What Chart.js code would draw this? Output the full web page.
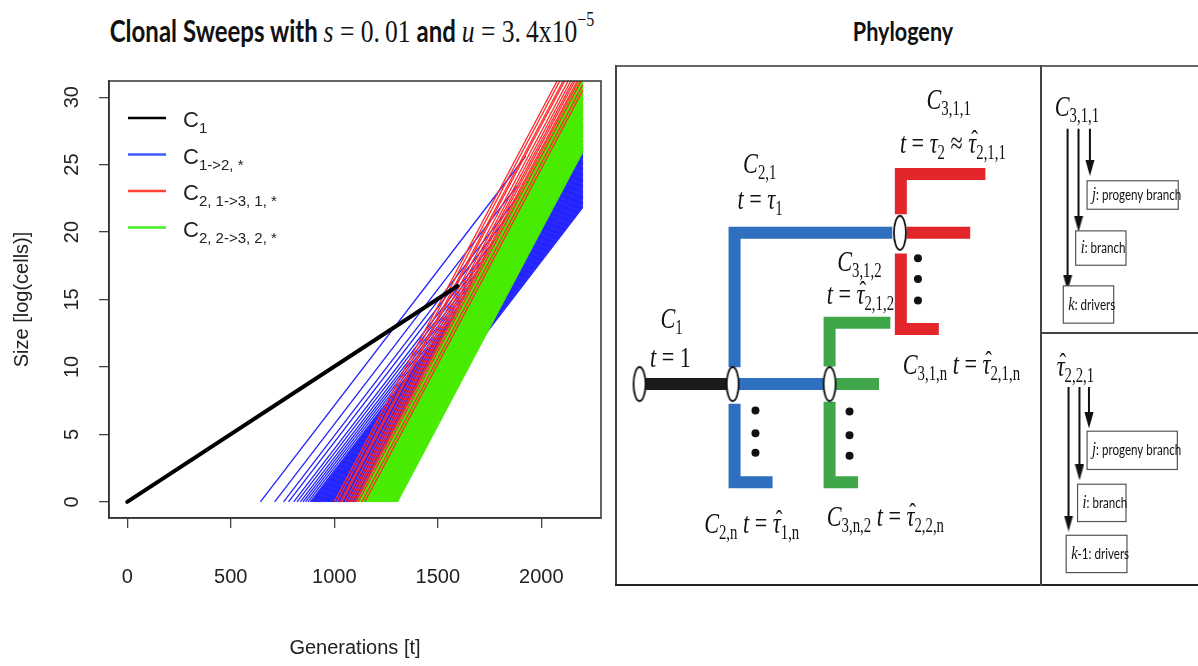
<!DOCTYPE html>
<html lang="en">
<head>
<meta charset="UTF-8">
<title>Clonal sweeps and phylogeny</title>
<script src="https://cdn.jsdelivr.net/npm/chart.js@4.4.1/dist/chart.umd.min.js"></script>
<style>
  html, body { margin: 0; padding: 0; background: #fff; }
  body { position: relative; width: 1198px; height: 666px; overflow: hidden; }
  canvas { position: absolute; top: 0; }
  #growth { left: 0; }
  #tree { left: 612px; }
  .ttl {
    position: absolute; top: 12px; white-space: nowrap; line-height: 1;
    font: bold 30px Lato, "Open Sans", sans-serif; color: #111;
    transform: translateX(-50%) scaleX(0.8); transform-origin: center top;
  }
  .ttl.ph { font-size: 27px; top: 14px; }
  .ttl .m { font: 32px "Liberation Serif", "DejaVu Serif", serif; }
  .ttl sup { font-size: 20px; position: relative; top: -4px; }
  .rule { position: absolute; background: #444; }
</style>
</head>
<body>
<div class="ttl" style="left:352px">Clonal Sweeps with <span class="m"><i>s</i> = 0.&#8201;01</span> and <span class="m"><i>u</i> = 3.&#8201;4x10<sup>−5</sup></span></div>
<div class="ttl ph" style="left:903px">Phylogeny</div>

<!-- frame of the phylogeny panel -->
<div class="rule" style="left:615px;top:65px;width:583px;height:2px;background:#666"></div>
<div class="rule" style="left:615px;top:65px;width:2px;height:521px"></div>
<div class="rule" style="left:615px;top:584px;width:583px;height:2px;background:#222"></div>
<div class="rule" style="left:1040px;top:65px;width:2px;height:521px"></div>
<div class="rule" style="left:1040px;top:332px;width:158px;height:2px"></div>

<canvas id="growth" width="612" height="666"></canvas>
<canvas id="tree" width="586" height="666"></canvas>

<script>
// ---------- growth of clones (log size vs generation) ----------
const lastGeneration = 2200;
const c1Path = [[0, 0], [1595, 16]];
const c2Rate = 0.02;   // log-size gained per generation by C2 clones
const c3Rate = 0.029;  // same for C3 clones

const blueStart = [643, 712, 755, 779, 804, 820, 836, 849, 861, 873, 884,
  890, 895, 899, 904, 908, 913, 917, 922, 926, 931, 935, 940, 944, 949, 953,
  958, 962, 967, 971, 976, 980, 985, 989, 994, 998, 1003, 1007, 1012, 1016,
  1021, 1025, 1030, 1034, 1039, 1043, 1048, 1052, 1057, 1061, 1066, 1070,
  1075, 1079, 1084, 1088, 1093, 1097, 1102, 1108];
const blueStop = [1925, 1885, 1905];   // first clones stop early
const redStart = [1000, 1013, 1029, 1037, 1053, 1066, 1077, 1086, 1097, 1104, 1116, 1134, 1148];
const greenStart = [1111, 1116, 1121, 1125, 1130, 1135, 1140, 1145, 1149, 1154,
  1159, 1164, 1169, 1173, 1178, 1183, 1188, 1193, 1197, 1202, 1207, 1212, 1217,
  1221, 1226, 1231, 1236, 1241, 1245, 1250, 1255, 1260, 1265, 1269, 1274, 1279,
  1284, 1289, 1293, 1298, 1304];

const xTicks = [0, 500, 1000, 1500, 2000];
const yTicks = [0, 5, 10, 15, 20, 25, 30];
const legendNames = [["C", "1"], ["C", "1->2, *"], ["C", "2, 1->3, 1, *"], ["C", "2, 2->3, 2, *"]];

const CLR = { c1: "#000000", blue: "#2222ff", red: "#ff2a2a", green: "#48ec00" };
const legendColors = [CLR.c1, "#3b5bff", "#ff4433", "#44ee22"];

const axisFont = '"Liberation Sans", Arial, sans-serif';
const mathFont = '"Liberation Serif", "DejaVu Serif", serif';
const keyFont = 'Lato, "Open Sans", sans-serif';

function sweep(t0, stop, rate) {
  return [{ x: t0, y: 0 }, { x: stop, y: rate * (stop - t0) }];
}

function seg(data, color, width, order, cap) {
  return { data, showLine: true, borderColor: color, borderWidth: width,
    pointRadius: 0, clip: 0, order, borderCapStyle: cap || "butt" };
}

const growthSets = [
  seg(c1Path.map(([x, y]) => ({ x, y })), CLR.c1, 4, 0, "round"),
  ...redStart.map(t => seg(sweep(t, lastGeneration, c3Rate), CLR.red, 1.3, 1)),
  ...greenStart.map(t => seg(sweep(t, lastGeneration, c3Rate), CLR.green, 1.6, 2)),
  ...blueStart.map((t, i) => seg(sweep(t, blueStop[i] ?? lastGeneration, c2Rate), CLR.blue, 1.3, 3)),
];

// box around the plotting region, R style
const frameBox = {
  id: "frameBox",
  afterDraw(chart) {
    const { ctx, chartArea: a } = chart;
    ctx.save();
    ctx.strokeStyle = "#333";
    ctx.lineWidth = 1.5;
    ctx.strokeRect(a.left, a.top, a.right - a.left, a.bottom - a.top);
    ctx.restore();
  }
};

// legend with subscripted clone names
const cloneLegend = {
  id: "cloneLegend",
  afterDatasetsDraw(chart) {
    const { ctx, chartArea: a } = chart;
    ctx.save();
    legendNames.forEach(([base, sub], i) => {
      const y = a.top + 37 + i * 36.5;
      ctx.strokeStyle = legendColors[i];
      ctx.lineWidth = 2.5;
      ctx.beginPath();
      ctx.moveTo(a.left + 19, y);
      ctx.lineTo(a.left + 57, y);
      ctx.stroke();
      ctx.fillStyle = "#222";
      ctx.textBaseline = "alphabetic";
      ctx.font = "22px " + axisFont;
      ctx.fillText(base, a.left + 74, y + 9);
      const w = ctx.measureText(base).width;
      ctx.font = "15px " + axisFont;
      ctx.fillText(sub, a.left + 74 + w, y + 15);
    });
    ctx.restore();
  }
};

new Chart(document.getElementById("growth"), {
  type: "scatter",
  data: { datasets: growthSets },
  options: {
    responsive: false,
    animation: false,
    events: [],
    layout: { padding: { top: 81, right: 11, left: 0, bottom: 0 } },
    plugins: { legend: { display: false }, tooltip: { enabled: false } },
    scales: {
      x: {
        type: "linear", min: -88, max: 2288,
        afterBuildTicks: sc => { sc.ticks = xTicks.map(v => ({ value: v })); },
        afterFit: sc => { sc.height = 148; },
        ticks: { font: { family: axisFont, size: 20 }, color: "#222", padding: 37, maxRotation: 0,
          callback: v => String(v) },
        grid: { drawOnChartArea: false, drawTicks: true, tickLength: 10, color: "#444", lineWidth: 1.3 },
        border: { display: true, color: "#333", width: 1.5 },
        title: { display: true, text: "Generations [t]", color: "#222",
          font: { family: axisFont, size: 20 }, padding: { top: 0, bottom: 6 } }
      },
      y: {
        type: "linear", min: -1.2, max: 31.2,
        afterBuildTicks: sc => { sc.ticks = yTicks.map(v => ({ value: v })); },
        afterFit: sc => { sc.width = 109; },
        ticks: { font: { family: axisFont, size: 20 }, color: "#222", padding: 15,
          minRotation: 90, maxRotation: 90, crossAlign: "center", callback: v => String(v) },
        grid: { drawOnChartArea: false, drawTicks: true, tickLength: 10, color: "#444", lineWidth: 1.3 },
        border: { display: true, color: "#333", width: 1.5 },
        title: { display: true, text: "Size [log(cells)]", color: "#222",
          font: { family: axisFont, size: 20 }, padding: { top: 10, bottom: 0 } }
      }
    }
  },
  plugins: [frameBox, cloneLegend]
});

// ---------- phylogeny (x: split order, y: lane) ----------
const TREE = { c1: "#1b1b1b", c2: "#2f6fbf", c3a: "#e3262b", c3b: "#3fa64a" };

const treeBranches = [
  { clone: "c1", path: [[0, 0], [0.94, 0]] },
  { clone: "c2", path: [[1.0, 0], [1.94, 0]] },
  { clone: "c2", path: [[1.0, 0.34], [1.0, 3.08], [2.66, 3.08]] },
  { clone: "c2", path: [[1.0, -0.4], [1.0, -2.0], [1.40, -2.0]] },
  { clone: "c3b", path: [[2.0, 0.36], [2.0, 1.25], [2.64, 1.25]] },
  { clone: "c3b", path: [[2.06, 0], [2.52, 0]] },
  { clone: "c3b", path: [[2.0, -0.36], [2.0, -2.0], [2.30, -2.0]] },
  { clone: "c3a", path: [[2.75, 3.46], [2.75, 4.28], [3.64, 4.28]] },
  { clone: "c3a", path: [[2.81, 3.08], [3.48, 3.08]] },
  { clone: "c3a", path: [[2.75, 2.66], [2.75, 1.12], [3.15, 1.12]] },
];
const splitNodes = [[0, 0], [0.98, 0], [2.0, 0], [2.74, 3.08]];
const ellipsisDots = [[1.22, -0.54], [1.22, -1.0], [1.22, -1.4],
  [2.21, -0.56], [2.21, -1.04], [2.21, -1.46],
  [2.93, 2.56], [2.93, 2.14], [2.93, 1.70]];

// index key: arrows [x, from, tip]
const keyArrows = [[4.505, 5.2, 1.9], [4.62, 5.2, 3.1], [4.74, 5.2, 4.24],
  [4.515, -0.06, -3.0], [4.63, -0.06, -1.96], [4.73, -0.06, -0.9]];

const treeLabels = [
  { at: [3.02, 5.6], text: [["C", "i"], ["3,1,1", "s"]] },
  { at: [2.74, 4.7], text: [["t", "i"], [" = ", "r"], ["τ", "i"], ["2", "s"], [" ≈ ", "r"], ["τ", "h"], ["2,1,1", "s"]] },
  { at: [1.09, 4.3], text: [["C", "i"], ["2,1", "s"]] },
  { at: [1.03, 3.56], text: [["t", "i"], [" = ", "r"], ["τ", "i"], ["1", "s"]] },
  { at: [2.08, 2.3], text: [["C", "i"], ["3,1,2", "s"]] },
  { at: [1.97, 1.64], text: [["t", "i"], [" = ", "r"], ["τ", "h"], ["2,1,2", "s"]] },
  { at: [0.22, 1.14], text: [["C", "i"], ["1", "s"]] },
  { at: [0.11, 0.34], text: [["t", "i"], [" = 1", "r"]] },
  { at: [2.77, 0.2], text: [["C", "i"], ["3,1,n", "s"], [" ", "r"], ["t", "i"], [" = ", "r"], ["τ", "h"], ["2,1,n", "s"]] },
  { at: [0.68, -3.04], text: [["C", "i"], ["2,n", "s"], [" ", "r"], ["t", "i"], [" = ", "r"], ["τ", "h"], ["1,n", "s"]] },
  { at: [1.97, -2.9], text: [["C", "i"], ["3,n,2", "s"], [" ", "r"], ["t", "i"], [" = ", "r"], ["τ", "h"], ["2,2,n", "s"]] },
  { at: [4.37, 5.46], text: [["C", "i"], ["3,1,1", "s"]] },
  { at: [4.39, 0.16], text: [["τ", "h"], ["2,2,1", "s"]] },
];

const keyBoxes = [
  { box: [4.71, 4.14, 5.67, 3.56], text: [["j", "i"], [": progeny branch", "k"]] },
  { box: [4.59, 3.12, 5.12, 2.42], text: [["i", "i"], [": branch", "k"]] },
  { box: [4.46, 2.0, 4.99, 1.24], text: [["k", "i"], [": drivers", "k"]] },
  { box: [4.71, -0.96, 5.66, -1.74], text: [["j", "i"], [": progeny branch", "k"]] },
  { box: [4.61, -2.04, 5.12, -2.8], text: [["i", "i"], [": branch", "k"]] },
  { box: [4.49, -3.08, 5.13, -3.84], text: [["k", "i"], ["-1: drivers", "k"]] },
];

const mathStyle = {
  sx: 0.74,
  i: { font: "italic 30px " + mathFont },
  r: { font: "30px " + mathFont },
  h: { font: "italic 30px " + mathFont },
  s: { font: "20px " + mathFont, dy: 6 },
};
const keyStyle = {
  sx: 0.8,
  i: { font: "italic 18px " + mathFont },
  k: { font: "14.5px " + keyFont },
};

function drawRich(ctx, x, y, tokens, style) {
  ctx.save();
  ctx.translate(x, y);
  ctx.scale(style.sx, 1);
  ctx.fillStyle = "#111";
  ctx.textBaseline = "alphabetic";
  let cx = 0;
  for (const [txt, kind] of tokens) {
    const st = style[kind];
    ctx.font = st.font;
    ctx.fillText(txt, cx, st.dy || 0);
    const w = ctx.measureText(txt).width;
    if (kind === "h") {
      ctx.font = "27px " + mathFont;
      ctx.textAlign = "center";
      ctx.fillText("ˆ", cx + w / 2 + 3, -4);
      ctx.textAlign = "left";
    }
    cx += w;
  }
  ctx.restore();
}

function ellipseSprite() {
  const c = document.createElement("canvas");
  c.width = 16; c.height = 38;
  const g = c.getContext("2d");
  g.beginPath();
  g.ellipse(8, 19, 6, 17, 0, 0, Math.PI * 2);
  g.fillStyle = "#ffffff";
  g.fill();
  g.lineWidth = 1.8;
  g.strokeStyle = "#111";
  g.stroke();
  return c;
}

function arrowSprite() {
  const c = document.createElement("canvas");
  c.width = 10; c.height = 16;
  const g = c.getContext("2d");
  g.beginPath();
  g.moveTo(0.5, 0);
  g.lineTo(9.5, 0);
  g.lineTo(5, 16);
  g.closePath();
  g.fillStyle = "#111";
  g.fill();
  return c;
}

const nodeImg = ellipseSprite();
const headImg = arrowSprite();
const pxPerLane = 50;

const treeSets = [
  ...treeBranches.map(b => ({
    data: b.path.map(([x, y]) => ({ x, y })), showLine: true,
    borderColor: TREE[b.clone], borderWidth: 12, borderJoinStyle: "miter",
    borderCapStyle: "butt", pointRadius: 0, order: 3
  })),
  { data: splitNodes.map(([x, y]) => ({ x, y })), pointStyle: nodeImg, pointRadius: 5, order: 1 },
  { data: ellipsisDots.map(([x, y]) => ({ x, y })), pointStyle: "circle", pointRadius: 4,
    backgroundColor: "#111", borderColor: "#111", borderWidth: 0, order: 1 },
  ...keyArrows.map(([x, from, tip]) => ({
    data: [{ x, y: from }, { x, y: tip + 8 / pxPerLane }], showLine: true,
    borderColor: "#111", borderWidth: 2, pointRadius: [0, 4], pointStyle: headImg, order: 2
  })),
];

const treeText = {
  id: "treeText",
  afterDatasetsDraw(chart) {
    const { ctx, scales: { x, y } } = chart;
    treeLabels.forEach(l => {
      drawRich(ctx, x.getPixelForValue(l.at[0]), y.getPixelForValue(l.at[1]), l.text, mathStyle);
    });
    keyBoxes.forEach(k => {
      const x0 = x.getPixelForValue(k.box[0]), y0 = y.getPixelForValue(k.box[1]);
      const x1 = x.getPixelForValue(k.box[2]), y1 = y.getPixelForValue(k.box[3]);
      ctx.save();
      ctx.fillStyle = "#fff";
      ctx.fillRect(x0, y0, x1 - x0, y1 - y0);
      ctx.strokeStyle = "#555";
      ctx.lineWidth = 1.2;
      ctx.strokeRect(x0, y0, x1 - x0, y1 - y0);
      ctx.restore();
      drawRich(ctx, x0 + 5, (y0 + y1) / 2 + 5, k.text, keyStyle);
    });
  }
};

new Chart(document.getElementById("tree"), {
  type: "scatter",
  data: { datasets: treeSets },
  options: {
    responsive: false,
    animation: false,
    events: [],
    layout: { padding: 0 },
    plugins: { legend: { display: false }, tooltip: { enabled: false } },
    scales: {
      x: { type: "linear", display: false, min: -22 / 97, max: 564 / 97 },
      y: { type: "linear", display: false, min: -281 / pxPerLane, max: 385 / pxPerLane }
    }
  },
  plugins: [treeText]
});
</script>
</body>
</html>
